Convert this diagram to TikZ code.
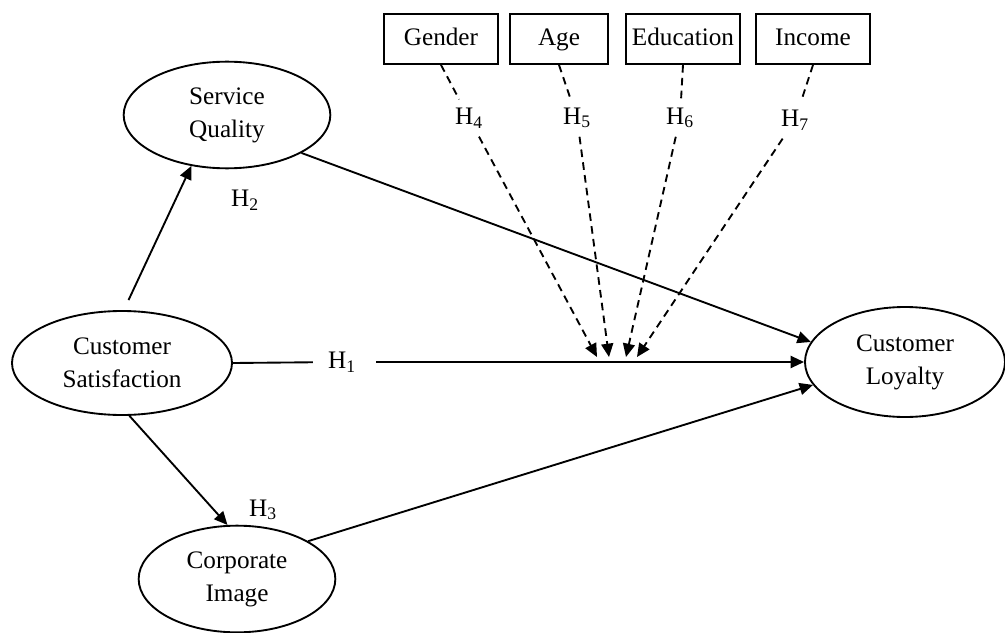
\documentclass[tikz,border=0pt]{standalone}
\usepackage{fontspec}
\setmainfont{Liberation Serif}
\usetikzlibrary{arrows.meta,shapes.geometric}

\tikzset{
  construct/.style={draw, ellipse, line width=1.6pt, align=center, inner sep=0pt,
    minimum height=3.2cm, font=\fontsize{21.5}{28}\selectfont},
  moderator/.style={draw, rectangle, line width=1.6pt, minimum height=1.5cm,
    minimum width=3.4cm, text height=14pt, text depth=3pt,
    font=\fontsize{21.5}{26}\selectfont},
  hyp/.style={font=\fontsize{21.5}{26}\selectfont, inner sep=0.25cm},
  link/.style={line width=1.6pt, -{Triangle[length=4mm,width=3.6mm]}},
  modlink/.style={link, dash pattern=on 6.5pt off 4.5pt}
}

\begin{document}
\begin{tikzpicture}[x=0.03cm,y=0.03cm]
  \useasboundingbox (0,0) rectangle (1005,632);

  % constructs
  \node[construct, minimum width=6.2cm] (sq) at (227,517) {Service\\Quality};
  \node[construct, minimum width=6.6cm, minimum height=3.12cm] (cs) at (122,269) {Customer\\Satisfaction};
  \node[construct, minimum width=5.9cm] (ci) at (237,53) {Corporate\\Image};
  \node[construct, minimum width=6.0cm, minimum height=3.3cm] (cl) at (905,270) {Customer\\Loyalty};

  % moderators
  \node[moderator] (gender) at (441,593) {Gender};
  \node[moderator, minimum width=2.95cm] (age) at (559,593) {Age};
  \node[moderator] (edu) at (683,593) {Education};
  \node[moderator] (inc) at (813,593) {Income};

  % hypothesis labels
  \node[hyp, inner xsep=0.45cm, fill=white] (h1) at (342,270) {H\textsubscript{1}};
  \node[hyp] (h2) at (245,432) {H\textsubscript{2}};
  \node[hyp, inner sep=2pt, fill=white] (h3) at (263,122) {H\textsubscript{3}};
  \node[hyp] (h4) at (469,514) {H\textsubscript{4}};
  \node[hyp] (h5) at (577,514) {H\textsubscript{5}};
  \node[hyp] (h6) at (680,514) {H\textsubscript{6}};
  \node[hyp] (h7) at (795,512) {H\textsubscript{7}};

  % moderating effects end on the H1 path
  \coordinate (t4) at (597,275);
  \coordinate (t5) at (609,275);
  \coordinate (t6) at (626,275);
  \coordinate (t7) at (637,275);

  % direct paths
  \draw[link, shorten <=3.3mm] (cs.88) -- (sq.235);
  \draw[link] (cs.278) -- (ci.100);
  \draw[link, shorten <=1.5mm] (cs.east) -- (h1) -- (cl.west);
  \draw[link] (sq.333) -- (cl.168);
  \draw[link] (ci.28) -- (cl.194);

  % moderators
  \draw[modlink] (gender.south) -- (h4) -- (t4);
  \draw[modlink] (age.south) -- (h5) -- (t5);
  \draw[modlink] (edu.south) -- (h6) -- (t6);
  \draw[modlink] (inc.south) -- (h7) -- (t7);
\end{tikzpicture}
\end{document}
